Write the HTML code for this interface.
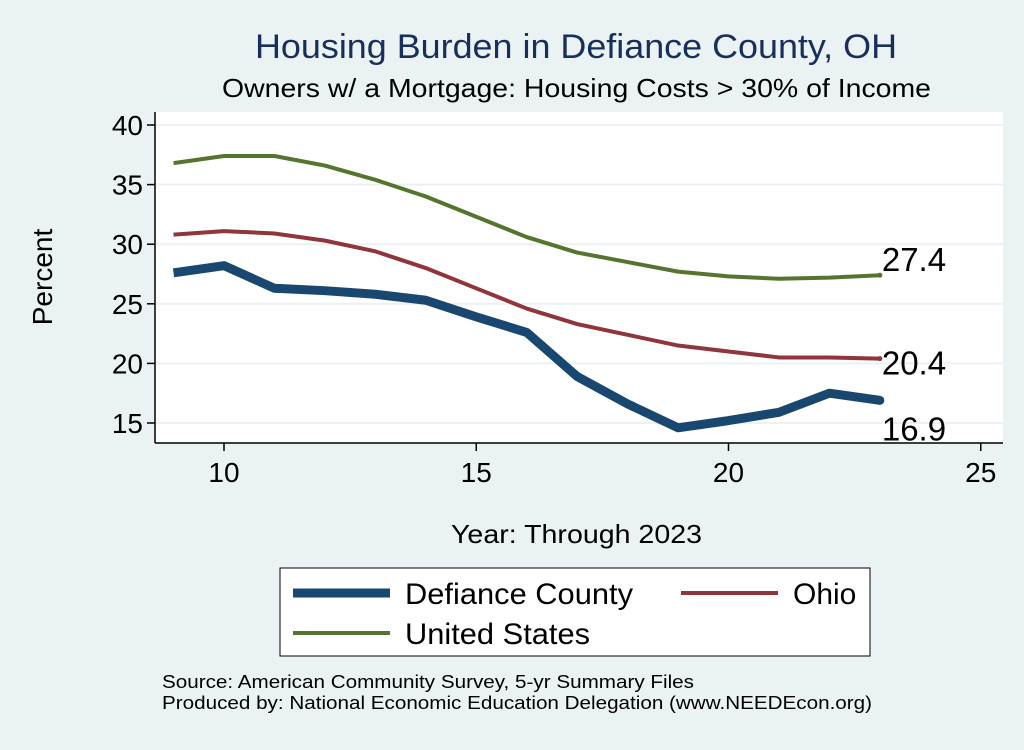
<!DOCTYPE html>
<html><head><meta charset="utf-8"><style>
body{margin:0;background:#eaf2f3;}
svg text{font-family:"Liberation Sans",sans-serif;}
</style></head><body>
<svg id="c" width="1024" height="745" xmlns="http://www.w3.org/2000/svg">
<rect width="1024" height="745" fill="#eaf2f3"/>
<rect x="155" y="112" width="848" height="331" fill="#fff"/>
<text x="255" y="58" font-size="34" fill="#1a2e5a" textLength="642" lengthAdjust="spacingAndGlyphs">Housing Burden in Defiance County, OH</text>
<text x="222" y="97" font-size="26" fill="#000" textLength="709" lengthAdjust="spacingAndGlyphs">Owners w/ a Mortgage: Housing Costs &gt; 30% of Income</text>
<text x="52" y="277" font-size="28" text-anchor="middle" transform="rotate(-90 52 277)">Percent</text>
<text x="451" y="543" font-size="26" textLength="251" lengthAdjust="spacingAndGlyphs">Year: Through 2023</text>
<g id="grid"></g><g id="axes"></g><g id="series"></g>
<rect x="280" y="568" width="590" height="88" fill="#fff" stroke="#000" stroke-width="1"/>
<g><line x1="293" y1="593" x2="390" y2="593" stroke="#1a476f" stroke-width="9"/><text x="405" y="604" font-size="30" textLength="228" lengthAdjust="spacingAndGlyphs">Defiance County</text></g>
<g><line x1="681" y1="593" x2="778" y2="593" stroke="#90353b" stroke-width="4"/><text x="793" y="604" font-size="30">Ohio</text></g>
<g><line x1="293" y1="633" x2="390" y2="633" stroke="#55752f" stroke-width="4"/><text x="405" y="644" font-size="30" textLength="185" lengthAdjust="spacingAndGlyphs">United States</text></g>
<text x="162" y="688" font-size="18" textLength="532" lengthAdjust="spacingAndGlyphs">Source: American Community Survey, 5-yr Summary Files</text>
<text x="162" y="709" font-size="18" textLength="710" lengthAdjust="spacingAndGlyphs">Produced by: National Economic Education Delegation (www.NEEDEcon.org)</text>
</svg>
<script>
const years=[9,10,11,12,13,14,15,16,17,18,19,20,21,22,23];
const defiance=[27.6,28.2,26.3,26.1,25.8,25.3,23.9,22.6,18.9,16.6,14.6,15.2,15.9,17.5,16.9];
const ohio=[30.8,31.1,30.9,30.3,29.4,28.0,26.3,24.6,23.3,22.4,21.5,21.0,20.5,20.5,20.4];
const us=[36.8,37.4,37.4,36.6,35.4,34.0,32.3,30.6,29.3,28.5,27.7,27.3,27.1,27.2,27.4];
const yTicks=[15,20,25,30,35,40];
const xTicks=[10,15,20,25];
const NS="http://www.w3.org/2000/svg";
const X=v=>224+(v-10)*50.45, Y=v=>125+(40-v)*11.92;
function mk(t,a,p){const e=document.createElementNS(NS,t);for(const k in a)e.setAttribute(k,a[k]);p.appendChild(e);return e;}
const grid=document.getElementById('grid'),axes=document.getElementById('axes'),ser=document.getElementById('series');
mk('line',{x1:155,y1:112,x2:155,y2:443,stroke:'#000','stroke-width':1.5},axes);
mk('line',{x1:155,y1:443,x2:1003,y2:443,stroke:'#000','stroke-width':1.5},axes);
yTicks.forEach(v=>{
 const g=mk('line',{x1:155,y1:Y(v),x2:1003,y2:Y(v),stroke:'#eaf2f3','stroke-width':2},grid);
 
 
 mk('line',{x1:147,y1:Y(v),x2:155,y2:Y(v),stroke:'#000','stroke-width':1.5},axes);
 const t=mk('text',{x:143,y:Y(v)+10,'font-size':28,'text-anchor':'end'},axes);t.textContent=v;
 
 
});
xTicks.forEach(v=>{
 mk('line',{x1:X(v),y1:443,x2:X(v),y2:451,stroke:'#000','stroke-width':1.5},axes);
 const t=mk('text',{x:X(v),y:482,'font-size':28,'text-anchor':'middle'},axes);t.textContent=v;
 
 
});
function line(vals,col,w,name,dy){
 const p=mk('polyline',{points:years.map((y,i)=>X(y)+','+Y(vals[i])).join(' '),fill:'none',stroke:col,'stroke-width':w,'stroke-linejoin':'round'},ser);
 
 
 const n=vals.length-1;
 mk('circle',{cx:X(years[n]),cy:Y(vals[n]),r:Math.max(2.5,w/2),fill:col},ser);
 const t=mk('text',{x:X(years[n])+2,y:Y(vals[n])+dy,'font-size':33},ser);t.textContent=vals[n].toFixed(1);
 
 
}
line(us,'#55752f',4,'us-line',-4);
line(ohio,'#90353b',4,'ohio-line',16);
line(defiance,'#1a476f',9,'defiance-line',40);
</script>
</body></html>
